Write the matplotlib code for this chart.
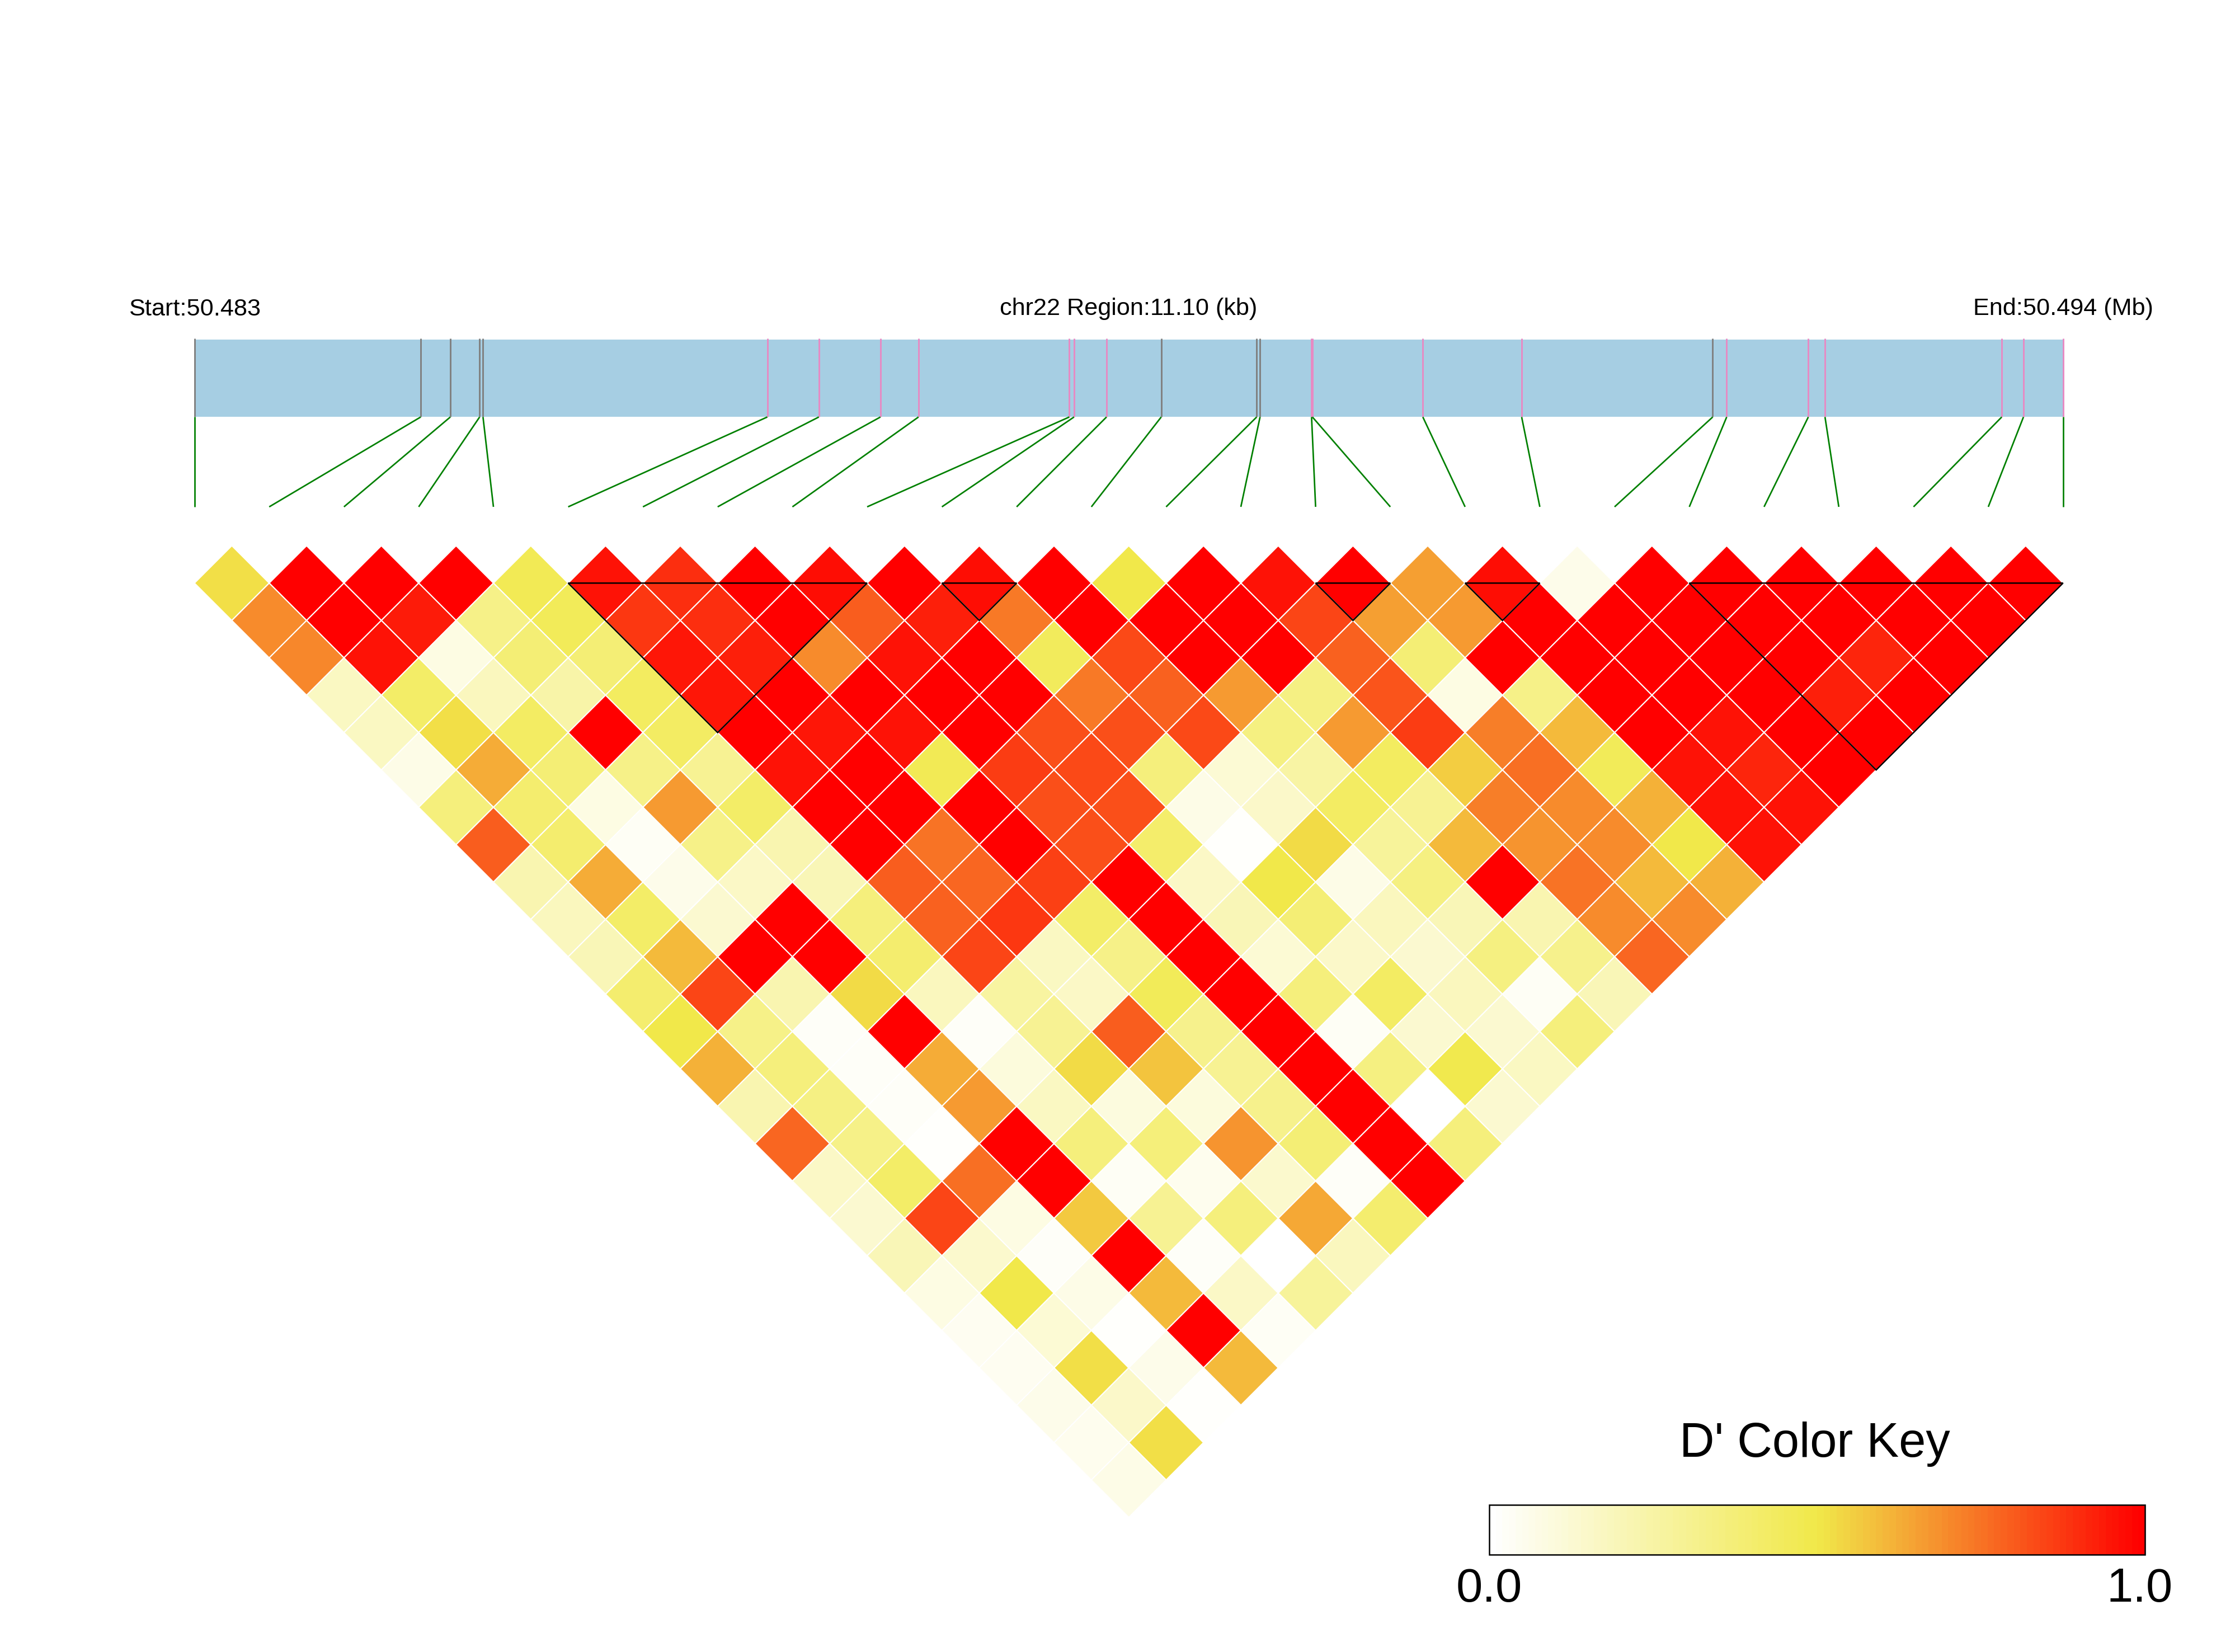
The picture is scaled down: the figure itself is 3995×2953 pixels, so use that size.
import numpy as np
import matplotlib
matplotlib.use("Agg")
import matplotlib.pyplot as plt
from matplotlib.colors import LinearSegmentedColormap
from matplotlib.patches import Polygon, Rectangle

plt.rcParams['font.family'] = ['Liberation Sans', 'DejaVu Sans']

# SNP positions along the region (kb from start)
snp_kb = [0.000, 1.344, 1.520, 1.694, 1.714, 3.403, 3.709, 4.075, 4.301, 5.197, 5.225, 5.418, 5.743,
          6.310, 6.330, 6.636, 6.641, 7.297, 7.884, 9.019, 9.102, 9.587, 9.686, 10.736, 10.865, 11.100]
snp_class = list("ggggg" "ppppppp" "g" "gg" "pp" "p" "p" "g" "p" "ppppp")
region_kb = 11.10

# D' by distance between SNPs (row k = pairs i, i+k+1)
dprime_rows = [
    [.52,1,1,1,.47,.96,.90,1,.97,1,.97,1,.50,1,.96,1,.66,.97,.06,1,1,1,1,1,1],
    [.70,1,.94,.33,.46,.88,.90,1,.80,.93,.74,1,1,1,.85,.66,.67,1,1,1,1,1,1,1],
    [.71,.96,.08,.38,.38,.95,.93,.70,.96,1,.45,.84,1,1,.79,.38,1,1,1,1,1,.92,1],
    [.17,.42,.18,.24,.44,.95,1,1,1,1,.74,.79,.67,.34,.82,.08,.33,1,1,1,.93,1],
    [.17,.52,.43,1,.43,1,.95,.96,1,.83,.83,.84,.35,.67,.87,.73,.60,1,.96,1,1],
    [.07,.63,.38,.33,.30,.96,1,.47,.87,.84,.36,.12,.25,.44,.56,.76,.46,.96,.92,1],
    [.36,.40,.08,.67,.42,1,1,1,.83,.83,.07,.15,.43,.30,.73,.70,.62,.96,.96],
    [.80,.40,.03,.33,.22,1,.75,1,.83,.41,.01,.53,.28,.60,.68,.70,.50,.96],
    [.22,.63,.06,.16,.20,.80,.78,.86,1,.16,.50,.07,.35,1,.75,.60,.62],
    [.18,.42,.13,1,.36,.79,.88,.42,1,.20,.38,.18,.20,.22,.70,.70],
    [.20,.60,1,1,.40,.85,.17,.33,1,.12,.15,.13,.35,.32,.78],
    [.40,.85,.22,.53,.18,.26,.16,.46,1,.36,.43,.18,.03,.20],
    [.50,.33,.02,1,.02,.30,.80,.32,1,.03,.13,.13,.36],
    [.62,.36,.02,.63,.10,.53,.58,.30,1,.35,.49,.17],
    [.22,.34,.02,.67,.17,.09,.10,.32,1,0,.13],
    [.78,.33,.01,1,.36,.37,.68,.38,1,.36],
    [.16,.42,.76,1,.03,.05,.14,.02,1],
    [.13,.85,.08,.57,.30,.36,.64,.40],
    [.20,.14,.02,1,.02,0,.18],
    [.08,.50,.07,.60,.16,.28],
    [.04,.12,.01,1,.03],
    [.04,.52,.06,.60],
    [.06,.15,.01],
    [.05,.52],
    [.07],
]
# LD blocks: first and last SNP index
blocks = [(5, 9), (10, 11), (15, 16), (17, 18), (20, 25)]

start_label = "Start:50.483"
mid_label = "chr22 Region:11.10 (kb)"
end_label = "End:50.494 (Mb)"
key_title = "D' Color Key"
key_ticks = ["0.0", "1.0"]

W, H = 3995, 2953
X0, STEP, Y0 = 347.6, 133.6, 1042.3
fig = plt.figure(figsize=(W / 300, H / 300), dpi=300, facecolor='white')
ax = fig.add_axes([0, 0, 1, 1])
ax.set_xlim(-X0 / STEP, (W - X0) / STEP)
ax.set_ylim((H - Y0) / STEP, -Y0 / STEP)
ax.axis('off')

def py(y):
    return (y - Y0) / STEP

cmap = LinearSegmentedColormap.from_list('ld', ['#FFFFFF', '#F1E94A', '#FF0000'], N=256)
n = len(snp_kb)

# D' diamonds
for k, row in enumerate(dprime_rows):
    for i, val in enumerate(row):
        cx = i + (k + 1) / 2
        cy = k / 2
        ax.add_patch(Polygon([(cx - .5, cy), (cx, cy - .5), (cx + .5, cy), (cx, cy + .5)],
                             closed=True, facecolor=cmap(float(val)), edgecolor='white', linewidth=0.5, zorder=2))

# LD blocks
for a, b in blocks:
    ax.add_patch(Polygon([(a, 0), (b, 0), ((a + b) / 2, (b - a) / 2)], closed=True, fill=False,
                         edgecolor='black', linewidth=0.6, joinstyle='miter', zorder=3))

# region bar and SNP connectors
bar_top, bar_bot, label_y = py(607), py(745.4), py(906)
ulen = n - 1
ax.add_patch(Rectangle((0, bar_top), ulen, bar_bot - bar_top, facecolor='#A6CEE3', edgecolor='none', zorder=1))
for idx, (kb, cl) in enumerate(zip(snp_kb, snp_class)):
    u = kb / region_kb * ulen
    ax.plot([u, u], [py(605), bar_bot], color='#808080' if cl == 'g' else '#E78AC3', lw=0.7,
            solid_capstyle='butt', zorder=2)
    ax.plot([u, idx], [bar_bot, label_y], color='#008000', lw=0.65, solid_capstyle='butt', zorder=2)

# header text
fs = 10.4
ax.text(0, py(563.5), start_label, ha='center', va='baseline', fontsize=fs)
ax.text(ulen / 2, py(563.5), mid_label, ha='center', va='baseline', fontsize=fs)
ax.text(ulen, py(563.5), end_label, ha='center', va='baseline', fontsize=fs)

# colour key
kx0, kx1 = (2662 - X0) / STEP, (3834 - X0) / STEP
ky0, ky1 = py(2690), py(2779)
key_vals = np.linspace(0, 1, 100).reshape(1, -1)
ax.imshow(key_vals, cmap=cmap, vmin=0, vmax=1, extent=(kx0, kx1, ky1, ky0), aspect='auto',
          interpolation='nearest', zorder=2)
ax.add_patch(Rectangle((kx0, ky0), kx1 - kx0, ky1 - ky0, fill=False, edgecolor='black', linewidth=0.6, zorder=3))
ax.set_xlim(-X0 / STEP, (W - X0) / STEP)
ax.set_ylim((H - Y0) / STEP, -Y0 / STEP)
ax.text((kx0 + kx1) / 2 - 0.03, py(2604), key_title, ha='center', va='baseline', fontsize=20.8)
ax.text(kx0, py(2863), key_ticks[0], ha='center', va='baseline', fontsize=20.4)
ax.text(kx1 - 0.07, py(2863), key_ticks[1], ha='center', va='baseline', fontsize=20.4)

fig.savefig('out.png', dpi=300, facecolor='white')
